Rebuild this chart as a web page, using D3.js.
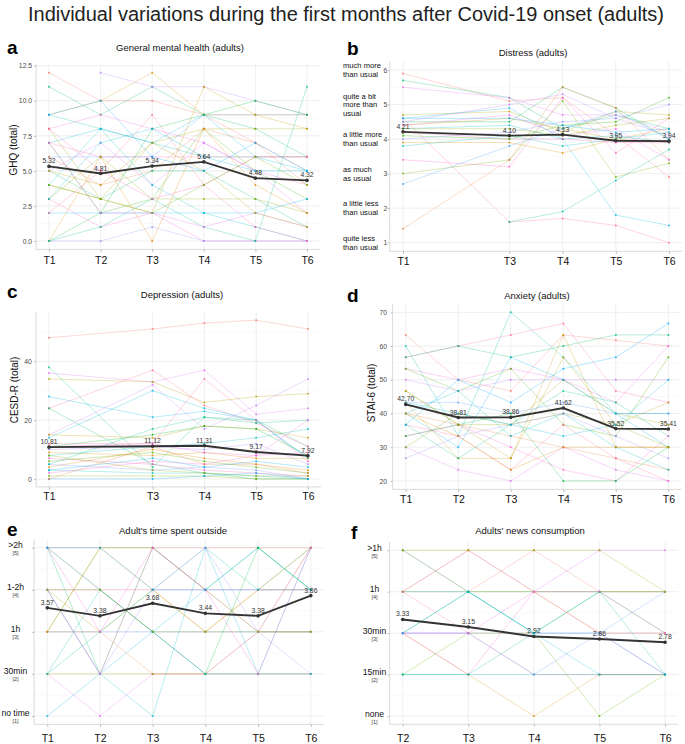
<!DOCTYPE html>
<html><head><meta charset="utf-8">
<script src="https://cdn.jsdelivr.net/npm/d3@7"></script>
<style>body{margin:0;background:#fff} svg{display:block;font-family:"Liberation Sans",Arial,Helvetica,sans-serif}</style>
</head><body><svg id="chart" width="685" height="744"></svg>
<script>
// ---------------- DATA ----------------
const timeLabels = ["T1","T2","T3","T4","T5","T6"];

// a: General mental health (GHQ)
const ghqTimes = [1,2,3,4,5,6];
const ghqMeans = [5.32,4.81,5.34,5.64,4.48,4.32];
const ghqTicks = [0,2.5,5,7.5,10,12.5];
const ghqIndividuals = [
 [12,10,10,9,7,5],[11,9,11,9,8,6],[null,12,11,11,10,9],[9,10,12,9,9,9],[9,8,7,6,6,6],
 [8,9,8,7,5,4],[8,3,7,8,8,8],[7,8,7,9,6,5],[7,6,6,6,6,6],[7,2,3,8,5,3],
 [6,6,6,9,9,9],[6,4,5,8,7,4],[5,3,5,5,3,1],[5,7,4,7,5,2],[4,3,2,11,9,8],
 [4,8,4,2,1,0],[3,1,2,0,0,0],[3,6,3,3,3,2],[2,2,2,2,2,3],[2,5,9,4,6,6],
 [0,2,8,9,10,9],[0,0,1,0,0,0],[0,6,0,8,4,2],[0,1,3,1,0,11],[7,2,2,1,2,1],
 [5,4,7,5,2,1],[3,7,8,6,5,5],[8,5,3,4,1,0],[4,3,2,4,6,4],[9,10,6,5,7,5]
];

// b: Distress
const distressTimes = [1,3,4,5,6];
const distressMeans = [4.21,4.10,4.13,3.95,3.94];
const distressTicks = [1,2,3,4,5,6];
const distressCategories = [
 ["quite less","than usual"],["a little less","than usual"],["as much","as usual"],
 ["a little more","than usual"],["quite a bit","more than","usual"],["much more","than usual"]
];
const distressIndividuals = [
 [5.9,5.1,5.2,4.1,2.9],[5.7,5.2,4.3,4.7,4.3],[5.5,5.2,4.7,4.7,4.2],[4.7,4.8,4.2,4.8,4.7],
 [4.6,4.9,4.0,1.8,1.5],[4.6,1.6,1.7,1.5,1.0],[4.5,4.5,5.5,4.9,4.0],[4.5,5.0,5.3,4.6,4.1],
 [4.4,4.6,4.3,4.0,3.9],[4.3,4.4,4.0,4.1,3.9],[4.2,4.0,4.0,3.9,3.9],[4.1,4.0,4.4,4.5,5.2],
 [4.0,4.2,4.5,4.6,5.0],[3.9,3.9,3.6,4.0,4.3],[3.8,4.1,3.8,4.0,4.2],[3.4,3.2,5.2,3.6,4.6],
 [3.0,3.4,5.1,2.9,3.3],[2.7,3.8,4.3,4.8,4.0],[1.4,3.4,5.5,4.9,3.4],[null,1.6,1.9,2.8,3.7],
 [4.4,4.7,4.1,4.3,3.4],[4.3,4.3,4.1,4.4,4.6],[4.6,4.6,4.4,4.2,4.3]
];

// c: Depression (CESD-R)
const cesdTimes = [1,3,4,5,6];
const cesdMeans = [10.81,11.12,11.31,9.17,7.92];
const cesdTicks = [0,20,40];
const cesdIndividuals = [
 [48,51,53,54,51],[38,4,21,20,11],[36,33,37,22,24],[34,33,26,28,29],[28,21,23,20,7],
 [24,37,25,19,11],[24,5,2,0,0],[15,32,17,25,34],[15,14,18,17,14],[14,30,24,20,7],
 [12,12,34,20,6],[11,15,18,17,8],[10,11,10,12,5],[9,8,9,7,7],[8,11,12,14,17],
 [7,5,3,2,1],[6,9,6,4,2],[5,3,4,3,0],[4,10,7,5,3],[3,2,2,1,0],
 [2,6,5,8,9],[1,1,1,0,0],[0,0,1,2,0],[0,11,5,5,2],[5,17,21,19,20],
 [11,12,9,8,20],[8,3,2,1,1],[3,7,4,6,4]
];

// d: Anxiety (STAI-6)
const staiTimes = [1,2,3,4,5,6];
const staiMeans = [42.70,38.81,38.86,41.62,35.52,35.41];
const staiTicks = [20,30,40,50,60,70];
const staiIndividuals = [
 [63.3,50,46.7,63.3,61.7,60],[60,33.3,70,56.7,40,40],[56.7,60,63.3,66.7,46.7,43.3],
 [56.7,60,56.7,60,63.3,63.3],[53.3,50,53.3,50,43.3,60],[53.3,46.7,53.3,36.7,33.3,56.7],
 [50,46.7,50,50,50,50],[46.7,36.7,36.7,50,40,36.7],[43.3,43.3,40,43.3,40,40],
 [43.3,26.7,26.7,63.3,30,30],[40,30,56.7,50,40,30],[40,36.7,33.3,30,26.7,23.3],
 [40,46.7,33.3,40,30,23.3],[36.7,33.3,23.3,36.7,26.7,20],[36.7,26.7,36.7,46.7,43.3,33.3],
 [33.3,36.7,30,23.3,20,33.3],[33.3,36.7,40,20,20,30],[30,23.3,20,30,23.3,20],
 [30,40,36.7,40,36.7,30],[26.7,33.3,36.7,40,33.3,26.7],[46.7,36.7,26.7,56.7,36.7,43.3],
 [36.7,50,43.3,53.3,56.7,66.7],[40,33.3,23.3,30,30,30],[43.3,40,36.7,33.3,36.7,50]
];

// e: Time spent outside
const outsideTimes = [1,2,3,4,5,6];
const outsideMeans = [3.57,3.38,3.68,3.44,3.38,3.86];
const outsideCategories = ["no time","30min","1h","1-2h",">2h"];
const outsideIndividuals = [
 [5,5,5,5,5,5],[5,2,5,4,5,4],[5,4,3,2,3,5],[4,3,4,3,4,4],[4,2,1,5,2,5],
 [4,4,4,4,4,4],[3,5,5,4,3,3],[3,3,3,3,3,3],[3,3,2,2,3,5],[2,3,4,5,4,5],
 [2,1,2,2,2,2],[2,2,2,2,2,2],[1,2,3,4,5,4],[4,2,5,4,3,3],[5,4,3,2,5,4],
 [4,2,4,5,3,2],[3,5,4,3,4,5],[2,4,3,2,2,2],[5,3,5,4,2,5],[4,4,3,3,3,3],[5,5,4,4,4,4]
];

// f: News consumption
const newsTimes = [2,3,4,5,6];
const newsMeans = [3.33,3.15,2.92,2.86,2.78];
const newsCategories = ["none","15min","30min","1h",">1h"];
const newsIndividuals = [
 [5,4,5,4,4],[5,4,4,4,4],[4,5,4,5,5],[4,4,4,4,4],[4,4,3,2,2],[4,3,2,2,2],
 [3,4,3,4,3],[3,3,3,3,3],[3,2,1,2,2],[2,2,2,2,2],[3,2,4,3,2],[2,3,3,1,2],
 [3,3,2,3,4],[4,5,4,3,3],[2,2,3,4,2],[3,3,4,4,3],[5,5,5,5,4],[3,4,3,3,2]
];

// ---------------- HELPERS ----------------
function luvColor(h, c, l) {
  const hr = h * Math.PI / 180, u = c * Math.cos(hr), v = c * Math.sin(hr);
  const Xn = 95.047, Yn = 100, Zn = 108.883, den = Xn + 15 * Yn + 3 * Zn;
  const un = 4 * Xn / den, vn = 9 * Yn / den;
  const Y = l > 8 ? Yn * Math.pow((l + 16) / 116, 3) : Yn * l / 903.3;
  const up = u / (13 * l) + un, vp = v / (13 * l) + vn;
  const X = Y * 9 * up / (4 * vp), Z = Y * (12 - 3 * up - 20 * vp) / (4 * vp);
  const x = X / 100, y = Y / 100, z = Z / 100;
  const lin = [3.2404542*x - 1.5371385*y - 0.4985314*z,
              -0.9692660*x + 1.8760108*y + 0.0415560*z,
               0.0556434*x - 0.2040259*y + 1.0572252*z];
  const g = t => { t = Math.max(0, Math.min(1, t)); return t <= 0.0031308 ? 12.92*t : 1.055*Math.pow(t,1/2.4)-0.055; };
  return d3.rgb(...lin.map(t => Math.round(255 * g(t)))).formatHex();
}
function huePalette(n) { return d3.range(n).map(i => luvColor(15 + 360 * i / n, 100, 65)); }
function gcd(a, b) { return b ? gcd(b, a % b) : a; }

const svg = d3.select("#chart");
svg.append("rect").attr("width", 685).attr("height", 744).attr("fill", "#fff");
svg.append("text").attr("x", 346).attr("y", 21).attr("text-anchor", "middle")
  .attr("font-size", 19.5).attr("fill", "#222").attr("textLength", 636).attr("lengthAdjust", "spacingAndGlyphs")
  .text("Individual variations during the first months after Covid-19 onset (adults)");

function panel(p) {
  const g = svg.append("g");
  const x = d3.scaleLinear().domain(p.xDomain).range(p.xRange);
  const y = d3.scaleLinear().domain(p.yDomain).range(p.yRange);
  const [xl, xr] = p.xRange, [yb, yt] = p.yRange;
  // grid
  g.selectAll(null).data(p.yMinor).join("line").attr("x1", xl).attr("x2", xr)
    .attr("y1", d => y(d)).attr("y2", d => y(d)).attr("stroke", "#f4f4f4").attr("stroke-width", 0.5);
  g.selectAll(null).data(p.yTicks).join("line").attr("x1", xl).attr("x2", xr)
    .attr("y1", d => y(d)).attr("y2", d => y(d)).attr("stroke", "#ebebeb").attr("stroke-width", 0.8);
  g.selectAll(null).data(p.times).join("line").attr("y1", yt).attr("y2", yb)
    .attr("x1", d => x(d)).attr("x2", d => x(d)).attr("stroke", "#ebebeb").attr("stroke-width", 0.8);
  // axis lines
  g.append("line").attr("x1", xl).attr("x2", xl).attr("y1", yt).attr("y2", yb).attr("stroke", "#d2d2d2").attr("stroke-width", 0.8);
  g.append("line").attr("x1", xl).attr("x2", xr).attr("y1", yb).attr("y2", yb).attr("stroke", "#d2d2d2").attr("stroke-width", 0.8);
  // x axis
  const xa = g.append("g").attr("transform", `translate(0,${yb})`)
    .call(d3.axisBottom(x).tickValues(p.times).tickFormat(t => timeLabels[t - 1]).tickSize(2.5).tickPadding(p.xPad));
  xa.select(".domain").remove();
  xa.selectAll("line").attr("stroke", "#bbb");
  xa.selectAll("text").attr("font-size", 10.5).attr("fill", "#111").attr("font-family", null);
  // y axis
  const ya = g.append("g").attr("transform", `translate(${xl},0)`)
    .call(d3.axisLeft(y).tickValues(p.yTicks).tickFormat(p.yShowNumbers ? p.yFormat : "").tickSize(2).tickPadding(p.yPad));
  ya.select(".domain").remove();
  ya.selectAll("line").attr("stroke", "#bbb");
  ya.selectAll("text").attr("font-size", 6.8).attr("fill", "#4d4d4d").attr("font-family", null);
  // individuals
  const n = p.individuals.length;
  const pal = huePalette(n);
  let stride = Math.round(n * 0.38); while (gcd(stride, n) !== 1) stride++;
  const line = d3.line().defined(d => d[1] != null).x(d => x(d[0])).y(d => y(d[1]));
  p.individuals.forEach((vals, i) => {
    const col = pal[(i * stride) % n];
    const pts = p.times.map((t, j) => [t, vals[j]]);
    g.append("path").attr("d", line(pts)).attr("fill", "none").attr("stroke", col)
      .attr("stroke-opacity", 0.38).attr("stroke-width", 0.75);
    g.append("g").selectAll("circle").data(pts.filter(d => d[1] != null)).join("circle")
      .attr("cx", d => x(d[0])).attr("cy", d => y(d[1])).attr("r", 1.0).attr("fill", col).attr("fill-opacity", 0.8);
  });
  // mean
  const mpts = p.times.map((t, j) => [t, p.means[j]]);
  g.append("path").attr("d", line(mpts)).attr("fill", "none").attr("stroke", "#333").attr("stroke-width", 1.9);
  g.append("g").selectAll("circle").data(mpts).join("circle")
    .attr("cx", d => x(d[0])).attr("cy", d => y(d[1])).attr("r", 1.8).attr("fill", "#333");
  g.append("g").selectAll("text").data(mpts).join("text")
    .attr("x", d => x(d[0])).attr("y", d => y(d[1]) - 3).attr("text-anchor", "middle")
    .attr("font-size", 6.8).attr("fill", "#333").text(d => d[1].toFixed(2));
  // titles
  svg.append("text").attr("x", p.titleX).attr("y", p.titleY).attr("text-anchor", "middle")
    .attr("font-size", 9.5).attr("fill", "#111").text(p.title);
  svg.append("text").attr("x", p.letterX).attr("y", p.letterY).attr("font-size", 19)
    .attr("font-weight", "bold").attr("fill", "#000").text(p.letter);
  if (p.yTitle) {
    svg.append("text").attr("transform", `translate(${p.yTitleX},${p.yTitleY}) rotate(-90)`)
      .attr("text-anchor", "middle").attr("font-size", 10).attr("fill", "#111").text(p.yTitle);
  }
  return {x, y, g};
}

// ---------------- PANELS ----------------
panel({letter: "a", letterX: 7, letterY: 54, title: "General mental health (adults)", titleX: 180, titleY: 51,
  times: ghqTimes, means: ghqMeans, individuals: ghqIndividuals,
  xDomain: [0.75, 6.25], xRange: [36.1, 319.9], yDomain: [-0.6, 12.6], yRange: [249.4, 64.3],
  yTicks: ghqTicks, yMinor: [1.25, 3.75, 6.25, 8.75, 11.25], yShowNumbers: true, yFormat: d3.format(".1f"), yPad: 2,
  xPad: 4.4, yTitle: "GHQ (total)", yTitleX: 17, yTitleY: 150});

const pb = panel({letter: "b", letterX: 347, letterY: 55, title: "Distress (adults)", titleX: 533, titleY: 56,
  times: distressTimes, means: distressMeans, individuals: distressIndividuals,
  xDomain: [0.75, 6.25], xRange: [389.7, 682.3], yDomain: [0.75, 6.25], yRange: [251.3, 61.4],
  yTicks: distressTicks, yMinor: [1.5, 2.5, 3.5, 4.5, 5.5], yShowNumbers: true, yFormat: d3.format("d"), yPad: 0.5,
  xPad: 4.2});
distressCategories.forEach((lines, i) => {
  const cy = pb.y(distressTicks[i]);
  const t = svg.append("text").attr("font-size", 7.6).attr("fill", "#111");
  lines.forEach((s, k) => {
    t.append("tspan").attr("x", 343).attr("y", cy + 2.7 + (k - (lines.length - 1) / 2) * 8.7).text(s);
  });
});

panel({letter: "c", letterX: 7, letterY: 298, title: "Depression (adults)", titleX: 182, titleY: 298,
  times: cesdTimes, means: cesdMeans, individuals: cesdIndividuals,
  xDomain: [0.75, 6.25], xRange: [36.05, 320.9], yDomain: [-2.7, 56.7], yRange: [486.9, 312.2],
  yTicks: cesdTicks, yMinor: [10, 30, 50], yShowNumbers: true, yFormat: d3.format("d"), yPad: 2.3,
  xPad: 3.4, yTitle: "CESD-R (total)", yTitleX: 18, yTitleY: 390});

panel({letter: "d", letterX: 347, letterY: 302, title: "Anxiety (adults)", titleX: 537, titleY: 298.5,
  times: staiTimes, means: staiMeans, individuals: staiIndividuals,
  xDomain: [0.75, 6.25], xRange: [392.6, 681.5], yDomain: [17.5, 72.5], yRange: [489.4, 303.9],
  yTicks: staiTicks, yMinor: [25, 35, 45, 55, 65], yShowNumbers: true, yFormat: d3.format("d"), yPad: 3.5,
  xPad: 3.4, yTitle: "STAI-6 (total)", yTitleX: 375, yTitleY: 393});

const pe = panel({letter: "e", letterX: 7, letterY: 536, title: "Adult's time spent outside", titleX: 173, titleY: 534,
  times: outsideTimes, means: outsideMeans, individuals: outsideIndividuals,
  xDomain: [0.75, 6.25], xRange: [34.1, 324], yDomain: [0.8, 5.2], yRange: [724.4, 539.3],
  yTicks: [1, 2, 3, 4, 5], yMinor: [1.5, 2.5, 3.5, 4.5], yShowNumbers: false, yFormat: null, yPad: 2,
  xPad: 7.4});
outsideCategories.forEach((s, i) => {
  const cy = pe.y(i + 1);
  svg.append("text").attr("x", 15.5).attr("y", cy + 0.5).attr("text-anchor", "middle").attr("font-size", 8.6).attr("fill", "#111").text(s);
  svg.append("text").attr("x", 15.5).attr("y", cy + 7.5).attr("text-anchor", "middle").attr("font-size", 5.6).attr("fill", "#444").text(`[${i + 1}]`);
});

const pf = panel({letter: "f", letterX: 351, letterY: 539, title: "Adults' news consumption", titleX: 530, titleY: 534,
  times: newsTimes, means: newsMeans, individuals: newsIndividuals,
  xDomain: [1.8, 6.2], xRange: [389.6, 678.2], yDomain: [0.8, 5.2], yRange: [724.3, 542],
  yTicks: [1, 2, 3, 4, 5], yMinor: [1.5, 2.5, 3.5, 4.5], yShowNumbers: false, yFormat: null, yPad: 2,
  xPad: 7.5});
newsCategories.forEach((s, i) => {
  const cy = pf.y(i + 1);
  svg.append("text").attr("x", 374.5).attr("y", cy + 0.5).attr("text-anchor", "middle").attr("font-size", 8.6).attr("fill", "#111").text(s);
  svg.append("text").attr("x", 374.5).attr("y", cy + 7.5).attr("text-anchor", "middle").attr("font-size", 5.6).attr("fill", "#444").text(`[${i + 1}]`);
});
</script>
</body></html>
